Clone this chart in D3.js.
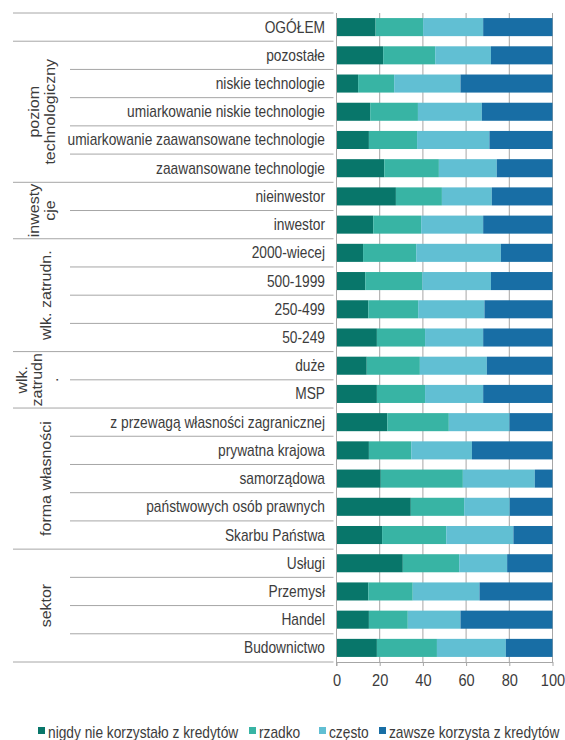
<!DOCTYPE html>
<html>
<head>
<meta charset="utf-8">
<script src="https://cdn.jsdelivr.net/npm/d3@7"></script>
<style>
  html, body { margin: 0; padding: 0; background: #fff; }
  svg { display: block; font-family: "Liberation Sans", Arial, sans-serif; }
</style>
</head>
<body>
<svg id="chart" width="565" height="740"></svg>
<script>
// Row labels, top to bottom
const categories = [
  "OGÓŁEM",
  "pozostałe", "niskie technologie", "umiarkowanie niskie technologie",
  "umiarkowanie zaawansowane technologie", "zaawansowane technologie",
  "nieinwestor", "inwestor",
  "2000-wiecej", "500-1999", "250-499", "50-249",
  "duże", "MSP",
  "z przewagą własności zagranicznej", "prywatna krajowa", "samorządowa",
  "państwowych osób prawnych", "Skarbu Państwa",
  "Usługi", "Przemysł", "Handel", "Budownictwo"
];

// Shares (%) per row, one array per answer
const nigdy  = [18.1, 21.6, 10.0, 15.6, 15.0, 22.1, 27.5, 17.0, 12.3, 13.3, 14.7, 18.7, 14.0, 18.7, 23.5, 15.0, 20.5, 34.4, 21.1, 30.7, 14.7, 15.0, 18.7];
const rzadko = [22.0, 24.1, 16.7, 22.1, 22.3, 25.3, 21.3, 22.2, 24.6, 26.4, 23.1, 22.3, 24.6, 22.3, 28.5, 19.6, 38.0, 24.7, 29.7, 26.1, 20.6, 18.0, 27.8];
const czesto = [27.8, 25.8, 30.7, 29.6, 33.5, 26.8, 23.1, 28.7, 39.2, 31.8, 30.7, 26.9, 31.0, 26.9, 28.1, 28.1, 33.3, 21.1, 31.1, 22.2, 30.9, 24.4, 31.9];
const zawsze = [32.1, 28.5, 42.6, 32.7, 29.2, 25.8, 28.1, 32.1, 23.9, 28.5, 31.5, 32.1, 30.4, 32.1, 19.9, 37.3, 8.2, 19.8, 18.1, 21.0, 33.8, 42.6, 21.6];

const seriesNames = ["nigdy nie korzystało z kredytów", "rzadko", "często", "zawsze korzysta z kredytów"];
const seriesColors = ["#08766a", "#38b4a4", "#61bfd3", "#186ea5"];
const xTicks = [0, 20, 40, 60, 80, 100];

// Outer grouping of rows: label lines and number of rows in each group
const groupLabels = [[], ["poziom", "technologiczny"], ["inwesty", "cje"], ["wlk. zatrudn."], ["wlk.", "zatrudn", "."], ["forma własności"], ["sektor"]];
const groupSizes  = [1, 5, 2, 4, 2, 5, 4];

// ---- layout ----
const svg = d3.select("#chart");
const plotLeft = 336.5, plotRight = 552.5, plotTop = 13, plotBottom = 662;
const textColor = "#3c3c3c";
const lineColor = "#a6a6a6";
const SX = 0.86; // horizontally condensed lettering

const x = d3.scaleLinear().domain([0, 100]).range([plotLeft, plotRight]);
const y = d3.scaleBand().domain(categories).range([plotTop, plotBottom]).paddingInner(0.36).paddingOuter(0.18);
const step = y.step();
const boundary = i => plotTop + i * step;

const rows = categories.map((c, i) => ({ cat: c, s0: nigdy[i], s1: rzadko[i], s2: czesto[i], s3: zawsze[i] }));
const stack = d3.stack().keys(["s0", "s1", "s2", "s3"]);
const stacked = stack(rows);

function label(parent, px, py, str, size, anchor, rotate) {
  const g = parent.append("g")
    .attr("transform", `translate(${px},${py}) scale(${SX},1)` + (rotate ? " rotate(-90)" : ""));
  return g.append("text")
    .attr("text-anchor", anchor)
    .attr("font-size", size)
    .attr("fill", textColor)
    .text(str);
}

// vertical gridlines behind the bars
svg.append("g").selectAll("line").data(xTicks.slice(1)).join("line")
  .attr("x1", d => x(d)).attr("x2", d => x(d))
  .attr("y1", plotTop).attr("y2", plotBottom)
  .attr("stroke", lineColor).attr("stroke-width", 1);

// stacked bars
svg.append("g").selectAll("g").data(stacked).join("g")
  .attr("fill", (d, i) => seriesColors[i])
  .selectAll("rect").data(d => d).join("rect")
  .attr("x", d => x(d[0]))
  .attr("width", d => x(d[1]) - x(d[0]))
  .attr("y", d => y(d.data.cat))
  .attr("height", y.bandwidth());

// bottom axis
const xAxis = svg.append("g")
  .attr("transform", `translate(0,${plotBottom})`)
  .call(d3.axisBottom(x).tickValues(xTicks).tickSize(4).tickSizeOuter(0).tickFormat(d3.format("d")));
xAxis.select(".domain").attr("stroke", lineColor);
xAxis.selectAll(".tick line").attr("stroke", lineColor);
xAxis.selectAll(".tick text")
  .attr("font-size", 17).attr("fill", textColor)
  .attr("font-family", "'Liberation Sans', Arial, sans-serif")
  .attr("y", 12).attr("dy", "0.71em")
  .attr("transform", `scale(${SX},1)`);

// left axis line
svg.append("line")
  .attr("x1", plotLeft).attr("x2", plotLeft)
  .attr("y1", plotTop).attr("y2", plotBottom + 4)
  .attr("stroke", lineColor);

// row separators and group separators in the label area
const groupStarts = [];
let acc = 0;
groupSizes.forEach(n => { groupStarts.push(acc); acc += n; });
const groupEdges = new Set([...groupStarts, categories.length]);
const sepG = svg.append("g");
d3.range(0, categories.length + 1).forEach(i => {
  const isGroup = groupEdges.has(i);
  sepG.append("line")
    .attr("x1", isGroup ? 13 : 70).attr("x2", plotLeft - 3)
    .attr("y1", boundary(i)).attr("y2", boundary(i))
    .attr("stroke", lineColor).attr("stroke-width", 1);
});

// row labels
const rowLabelG = svg.append("g");
categories.forEach(c => {
  label(rowLabelG, 325, y(c) + y.bandwidth() / 2 + 5.5, c, 16, "end", false);
});

// group labels, rotated; block centre shifts left as line count grows
const groupG = svg.append("g");
const blockCentre = { 1: 51, 2: 47, 3: 42 };
groupLabels.forEach((lines, gi) => {
  if (!lines.length) return;
  const cy = (boundary(groupStarts[gi]) + boundary(groupStarts[gi] + groupSizes[gi])) / 2;
  const lh = 15.5;
  lines.forEach((ln, li) => {
    const cx = blockCentre[lines.length] + (li - (lines.length - 1) / 2) * lh;
    label(groupG, cx, cy, ln, 16, "middle", true);
  });
});

// legend
const legendX = [38, 249, 319, 379];
const legG = svg.append("g");
seriesNames.forEach((name, i) => {
  legG.append("rect")
    .attr("x", legendX[i]).attr("y", 727)
    .attr("width", 7).attr("height", 7)
    .attr("fill", seriesColors[i]);
  label(legG, legendX[i] + 10, 737.5, name, 16, "start", false);
});
</script>
</body>
</html>
